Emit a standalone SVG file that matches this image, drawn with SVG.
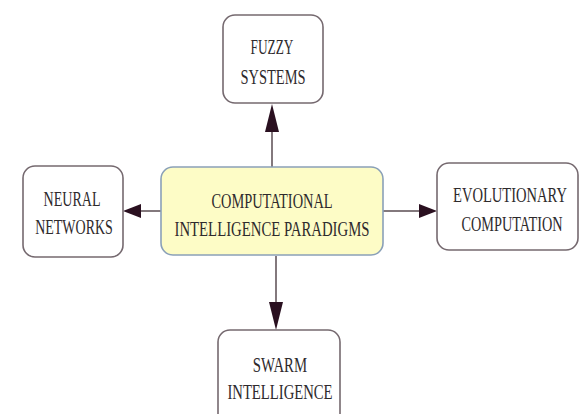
<svg xmlns="http://www.w3.org/2000/svg" width="580" height="414" viewBox="0 0 580 414">
<style>
.box{fill:#ffffff;stroke:#75696f;stroke-width:1.6}
.core{fill:#fdfcc6;stroke:#8aa0b8;stroke-width:1.6}
.t{font-family:"Liberation Serif","DejaVu Serif",serif;font-size:21px;fill:#2e2a2c;text-anchor:middle}
.ln{stroke:#5a4c52;stroke-width:1.5;fill:none}
.ah{fill:#2a1020}
</style>
<rect width="580" height="414" fill="#ffffff"/>
<g id="connectors">
<line class="ln" x1="272" y1="167" x2="272" y2="120"/>
<polygon class="ah" points="272,104 265,132 279,132"/>
<line class="ln" x1="161" y1="211" x2="138" y2="211"/>
<polygon class="ah" points="123,211 141,204 141,218"/>
<line class="ln" x1="383" y1="211" x2="422" y2="211"/>
<polygon class="ah" points="437,211 419,204 419,218"/>
<line class="ln" x1="276" y1="256" x2="276" y2="310"/>
<polygon class="ah" points="276,330 269,302 283,302"/>
</g>
<g id="fuzzy">
<rect class="box" x="223" y="15" width="100" height="88" rx="12"/>
<text class="t" transform="translate(272,54) scale(0.67,1)" textLength="64" lengthAdjust="spacingAndGlyphs">FUZZY</text>
<text class="t" transform="translate(273,84) scale(0.67,1)" textLength="97" lengthAdjust="spacingAndGlyphs">SYSTEMS</text>
</g>
<g id="core">
<rect class="core" x="161" y="167" width="222" height="88" rx="12"/>
<text class="t" transform="translate(272,208) scale(0.67,1)" textLength="181" lengthAdjust="spacingAndGlyphs">COMPUTATIONAL</text>
<text class="t" transform="translate(272,236) scale(0.67,1)" textLength="291" lengthAdjust="spacingAndGlyphs">INTELLIGENCE PARADIGMS</text>
</g>
<g id="neural">
<rect class="box" x="23" y="166" width="100" height="91" rx="12"/>
<text class="t" transform="translate(72,206) scale(0.67,1)" textLength="85" lengthAdjust="spacingAndGlyphs">NEURAL</text>
<text class="t" transform="translate(74,234) scale(0.67,1)" textLength="116" lengthAdjust="spacingAndGlyphs">NETWORKS</text>
</g>
<g id="evolutionary">
<rect class="box" x="437" y="163" width="141" height="87" rx="12"/>
<text class="t" transform="translate(510,202) scale(0.67,1)" textLength="170" lengthAdjust="spacingAndGlyphs">EVOLUTIONARY</text>
<text class="t" transform="translate(512,231) scale(0.67,1)" textLength="151" lengthAdjust="spacingAndGlyphs">COMPUTATION</text>
</g>
<g id="swarm">
<rect class="box" x="218" y="330" width="122" height="100" rx="12"/>
<text class="t" transform="translate(280,372) scale(0.67,1)" textLength="81" lengthAdjust="spacingAndGlyphs">SWARM</text>
<text class="t" transform="translate(280,399) scale(0.67,1)" textLength="157" lengthAdjust="spacingAndGlyphs">INTELLIGENCE</text>
</g>
</svg>
